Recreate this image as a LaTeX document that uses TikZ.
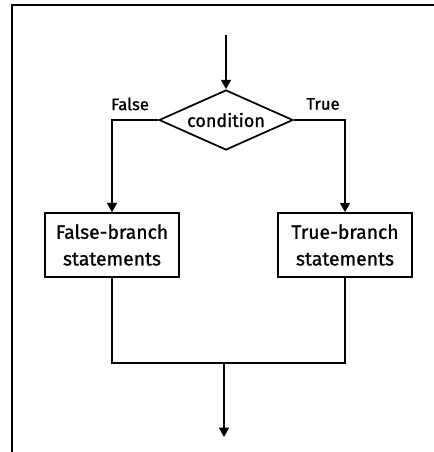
\documentclass[tikz,border=0pt]{standalone}
\usepackage{fontspec}
\setmainfont{Fira Sans}[FakeBold=1]
\usetikzlibrary{shapes.geometric,arrows.meta}
\begin{document}
\begin{tikzpicture}[x=0.75pt,y=-0.75pt,
  line width=1.3pt,
  flow/.style={-{Triangle[length=7pt,width=7.5pt]}},
  decision/.style={draw,diamond,aspect=2.23,inner sep=0pt,
    minimum width=100.5pt,minimum height=45pt,font=\fontsize{13.5}{15}\selectfont},
  stmt/.style={draw,rectangle,minimum width=101pt,minimum height=48pt,
    align=center,inner sep=2pt,font=\fontsize{14.5}{20}\selectfont},
  lbl/.style={font=\fontsize{12.5}{14}\selectfont}]
\useasboundingbox (0,0) rectangle (434,452);
% frame of the panel
\draw[line width=0.9pt] (12,452) -- (12,5) -- (434,5);
% decision and the two branches
\node[decision] (cond) at (226,120) {condition};
\node[stmt] (fb) at (112,245) {False-branch\\statements};
\node[stmt] (tb) at (345,245) {True-branch\\statements};
\node[lbl] (lf) at (130,104) {False};
\node[lbl] (lt) at (323,104) {True};
\coordinate (in) at (226,35);
\coordinate (m) at (224,363);
\coordinate (out) at (224,437);
\draw[flow] (in) -- (cond.north);
\draw[flow] (cond.west) -| (fb.north);
\draw[flow] (cond.east) -| (tb.north);
\draw (fb.south) |- (m) -| (tb.south);
\draw[flow] (m) -- (out);
\end{tikzpicture}
\end{document}
